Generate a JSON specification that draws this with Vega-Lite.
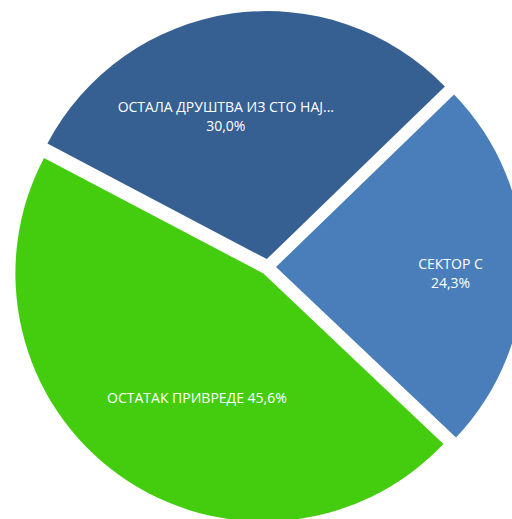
{
  "$schema": "https://vega.github.io/schema/vega-lite/v6.json",
  "width": 488,
  "height": 504,
  "autosize": {"type": "none"},
  "padding": {"left": 24, "top": 15, "right": 0, "bottom": 0},
  "background": "white",
  "view": {"stroke": null},
  "data": {
    "values": [
      {"category": "СЕКТОР С", "label": "СЕКТОР С\n24,3%", "value": 24.3, "order": 1},
      {"category": "ОСТАТАК ПРИВРЕДЕ", "label": "ОСТАТАК ПРИВРЕДЕ 45,6%", "value": 45.6, "order": 2},
      {"category": "ОСТАЛА ДРУШТВА ИЗ СТО НАЈВЕЋИХ", "label": "ОСТАЛА ДРУШТВА ИЗ СТО НАЈ...\n30,0%", "value": 30.0, "order": 3}
    ]
  },
  "transform": [
    {"stack": "value", "groupby": [], "sort": [{"field": "order", "order": "ascending"}], "as": ["v0", "v1"]}
  ],
  "encoding": {
    "theta": {"field": "v0", "type": "quantitative", "stack": null, "scale": {"domain": [0, 99.9], "range": [0.801, 7.0842]}}
  },
  "layer": [
    {
      "transform": [{"filter": "datum.order == 1"}],
      "layer": [
        {"mark": {"type": "arc", "outerRadius": 248, "xOffset": 8, "yOffset": 0, "fill": "#4A7EBB"}, "encoding": {"theta2": {"field": "v1"}}},
        {"mark": {"type": "text", "radius": 182.5, "thetaOffset": 0.761, "font": "Open Sans", "fontSize": 14, "fill": "white", "align": "center", "baseline": "middle", "lineBreak": "\n", "lineHeight": 19}, "encoding": {"text": {"field": "label"}}}
      ]
    },
    {
      "transform": [{"filter": "datum.order == 2"}],
      "layer": [
        {"mark": {"type": "arc", "outerRadius": 248, "xOffset": -4.6, "yOffset": 6.5, "fill": "#44CD0E"}, "encoding": {"theta2": {"field": "v1"}}},
        {"mark": {"type": "text", "radius": 149.9, "thetaOffset": 1.306, "font": "Open Sans", "fontSize": 14, "fill": "white", "align": "center", "baseline": "middle", "lineBreak": "\n", "lineHeight": 19}, "encoding": {"text": {"field": "label"}}}
      ]
    },
    {
      "transform": [{"filter": "datum.order == 3"}],
      "layer": [
        {"mark": {"type": "arc", "outerRadius": 248, "xOffset": -1.2, "yOffset": -7.9, "fill": "#376092"}, "encoding": {"theta2": {"field": "v1"}}},
        {"mark": {"type": "text", "radius": 164.7, "thetaOffset": 0.827, "font": "Open Sans", "fontSize": 14, "fill": "white", "align": "center", "baseline": "middle", "lineBreak": "\n", "lineHeight": 19}, "encoding": {"text": {"field": "label"}}}
      ]
    }
  ]
}
